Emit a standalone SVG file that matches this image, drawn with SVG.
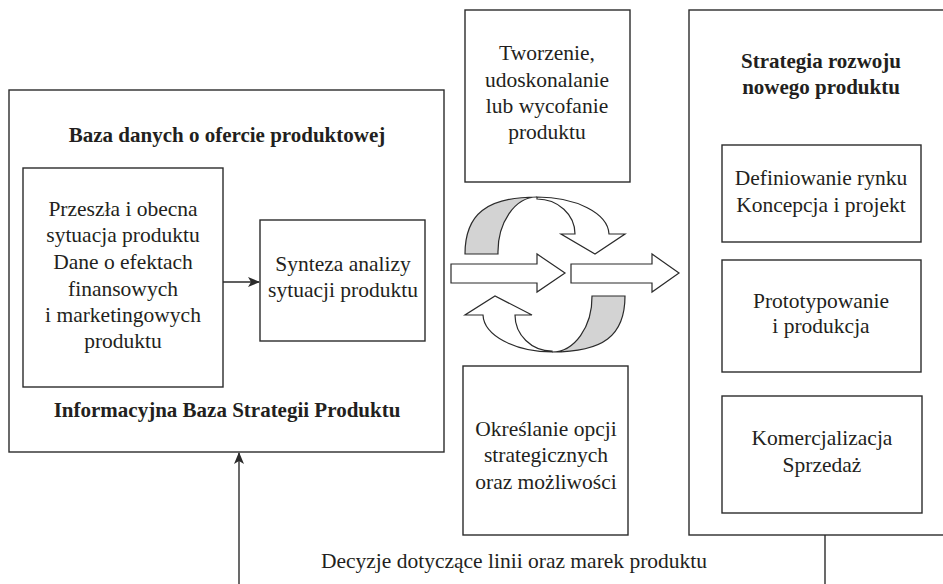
<svg xmlns="http://www.w3.org/2000/svg" width="943" height="584" viewBox="0 0 943 584">
  <style>
    .box { fill: #ffffff; stroke: #2b2b2b; stroke-width: 1.4; }
    .shape { fill: #ffffff; stroke: #2b2b2b; stroke-width: 1.2; stroke-linejoin: miter; }
    .back { fill: #d3d3d3; stroke: #2b2b2b; stroke-width: 1.2; }
    .line { fill: none; stroke: #2b2b2b; stroke-width: 1.4; }
    text { font-family: "Liberation Serif", "Times New Roman", serif; fill: #231f20; text-anchor: middle; }
    .t { font-size: 21.5px; }
    .b { font-size: 21px; font-weight: bold; }
  </style>
  <defs>
    <marker id="head" viewBox="0 0 12 10" refX="11" refY="5" markerWidth="12" markerHeight="10" markerUnits="userSpaceOnUse" orient="auto">
      <path d="M0,0 L12,5 L0,10 L3,5 Z" fill="#2b2b2b"/>
    </marker>
  </defs>
  <rect width="943" height="584" fill="#ffffff"/>

  <!-- Left block: product offer database -->
  <g id="baza">
    <rect class="box" x="9" y="90" width="435" height="362"/>
    <text class="b" x="227" y="142">Baza danych o ofercie produktowej</text>
    <text class="b" x="227" y="417">Informacyjna Baza Strategii Produktu</text>
  </g>
  <g id="sytuacja">
    <rect class="box" x="23" y="168" width="200" height="219"/>
    <text class="t" x="123" y="216">Przeszła i obecna</text>
    <text class="t" x="123" y="242">sytuacja produktu</text>
    <text class="t" x="123" y="269">Dane o efektach</text>
    <text class="t" x="123" y="296">finansowych</text>
    <text class="t" x="123" y="322">i marketingowych</text>
    <text class="t" x="123" y="348">produktu</text>
  </g>
  <g id="synteza">
    <rect class="box" x="260" y="220" width="165" height="121"/>
    <text class="t" x="343" y="271">Synteza analizy</text>
    <text class="t" x="343" y="297">sytuacji produktu</text>
  </g>

  <!-- Middle column -->
  <g id="tworzenie">
    <rect class="box" x="465" y="10" width="165" height="172"/>
    <text class="t" x="547" y="60">Tworzenie,</text>
    <text class="t" x="547" y="87">udoskonalanie</text>
    <text class="t" x="547" y="113">lub wycofanie</text>
    <text class="t" x="547" y="139">produktu</text>
  </g>
  <g id="okreslanie">
    <rect class="box" x="463" y="366" width="165" height="169"/>
    <text class="t" x="546" y="436">Określanie opcji</text>
    <text class="t" x="546" y="462">strategicznych</text>
    <text class="t" x="546" y="489">oraz możliwości</text>
  </g>

  <!-- Right block: new product development strategy -->
  <g id="strategia">
    <rect class="box" x="689" y="10" width="270" height="525"/>
    <text class="b" x="821" y="68">Strategia rozwoju</text>
    <text class="b" x="821" y="94">nowego produktu</text>
  </g>
  <g id="definiowanie">
    <rect class="box" x="722" y="145" width="199" height="97"/>
    <text class="t" x="821" y="185">Definiowanie rynku</text>
    <text class="t" x="821" y="212">Koncepcja i projekt</text>
  </g>
  <g id="prototypowanie">
    <rect class="box" x="722" y="260" width="199" height="112"/>
    <text class="t" x="821" y="308">Prototypowanie</text>
    <text class="t" x="821" y="333">i produkcja</text>
  </g>
  <g id="komercjalizacja">
    <rect class="box" x="722" y="396" width="200" height="117"/>
    <text class="t" x="822" y="445">Komercjalizacja</text>
    <text class="t" x="822" y="472">Sprzedaż</text>
  </g>

  <!-- Cycle of curved block arrows -->
  <g id="cykl">
    <!-- upper curved arrow: shaded back side, then front with head -->
    <path class="back" d="M465,254 C465,214 487,197 537,197 A39,55 0 0 0 498,254 Z"/>
    <path class="shape" d="M537,197 A72,38 0 0 1 609,234 L625,234 L595,254 L561,234 L575,234 A38,35 0 0 0 537,199 Z"/>
    <!-- lower curved arrow -->
    <path class="back" d="M625,296 C625,336 603,352 552,352 A40,55 0 0 0 592,296 Z"/>
    <path class="shape" d="M552,352 A70,38 0 0 1 483,315 L465,315 L495,296 L532,315 L515,315 A37,36 0 0 0 552,351 Z"/>
    <!-- straight block arrows -->
    <path class="shape" d="M451,264 L537,264 L537,254 L565,273 L537,292 L537,283 L451,283 Z"/>
    <path class="shape" d="M571,264 L652,264 L652,254 L679,273 L652,292 L652,283 L571,283 Z"/>
  </g>

  <!-- Connectors -->
  <g id="connectors">
    <line class="line" x1="223" y1="282" x2="259" y2="282" marker-end="url(#head)"/>
    <line class="line" x1="239" y1="584" x2="239" y2="453" marker-end="url(#head)"/>
    <line class="line" x1="825" y1="535" x2="825" y2="584"/>
    <text class="t" x="514" y="568">Decyzje dotyczące linii oraz marek produktu</text>
  </g>
</svg>
